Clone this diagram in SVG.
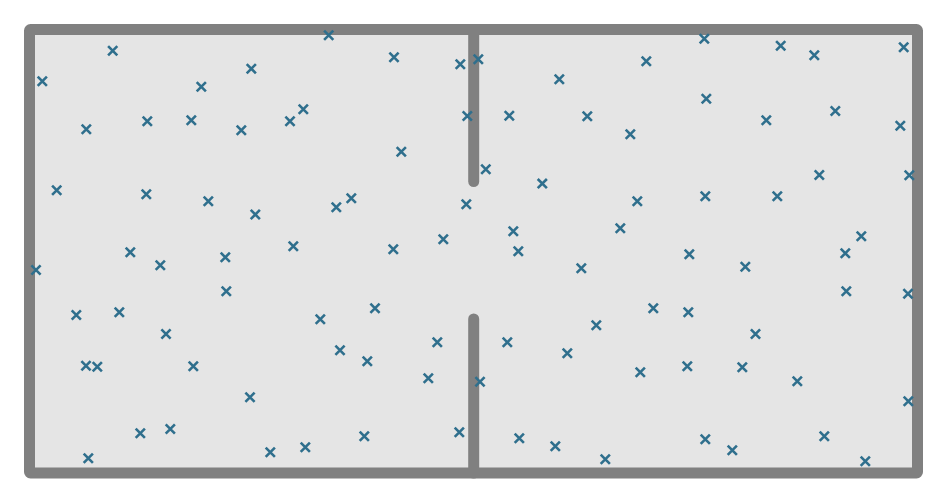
<svg xmlns="http://www.w3.org/2000/svg" xmlns:xlink="http://www.w3.org/1999/xlink" width="946" height="502" viewBox="0 0 946 502">
<style>
.wall{fill:none;stroke:#808080;stroke-width:11;stroke-linecap:round;stroke-linejoin:round}
.floor{fill:#e5e5e5;stroke:#808080;stroke-width:11;stroke-linejoin:round}
.m{fill:none;stroke:#2f6f8d;stroke-width:2.6}
</style>
<defs>
<path id="m" class="m" d="M-4.6,-4.6L4.6,4.6M-4.6,4.6L4.6,-4.6"/>
</defs>
<rect width="946" height="502" fill="#ffffff"/>
<g id="room">
<rect x="29.5" y="29.5" width="888" height="443.5" rx="1" class="floor"/>
<line x1="473.7" y1="29.5" x2="473.7" y2="181.5" class="wall"/>
<line x1="473.7" y1="319" x2="473.7" y2="473" class="wall"/>
</g>
<g id="particles">
<use href="#m" x="112.7" y="50.7"/>
<use href="#m" x="42.3" y="81.3"/>
<use href="#m" x="201.3" y="86.7"/>
<use href="#m" x="251.3" y="68.7"/>
<use href="#m" x="86.3" y="129.3"/>
<use href="#m" x="147.3" y="121.3"/>
<use href="#m" x="191.3" y="120.3"/>
<use href="#m" x="241.3" y="130.3"/>
<use href="#m" x="328.7" y="35.3"/>
<use href="#m" x="394" y="57.3"/>
<use href="#m" x="460.3" y="64.3"/>
<use href="#m" x="478.3" y="59.3"/>
<use href="#m" x="290" y="121.3"/>
<use href="#m" x="303.3" y="109.3"/>
<use href="#m" x="467.3" y="116"/>
<use href="#m" x="401.3" y="151.7"/>
<use href="#m" x="485.8" y="169.3"/>
<use href="#m" x="704.3" y="38.7"/>
<use href="#m" x="646.3" y="61.3"/>
<use href="#m" x="559.3" y="79.3"/>
<use href="#m" x="706.3" y="98.7"/>
<use href="#m" x="509.3" y="115.7"/>
<use href="#m" x="587.3" y="116.3"/>
<use href="#m" x="630.3" y="134.3"/>
<use href="#m" x="542.3" y="183.6"/>
<use href="#m" x="780.7" y="45.7"/>
<use href="#m" x="814.3" y="55.3"/>
<use href="#m" x="903.7" y="47.3"/>
<use href="#m" x="766.3" y="120.3"/>
<use href="#m" x="835.3" y="111"/>
<use href="#m" x="900.3" y="125.7"/>
<use href="#m" x="819.3" y="175"/>
<use href="#m" x="909.3" y="175.3"/>
<use href="#m" x="56.7" y="190.3"/>
<use href="#m" x="146.3" y="194.3"/>
<use href="#m" x="208.3" y="201.3"/>
<use href="#m" x="255.3" y="214.5"/>
<use href="#m" x="130.3" y="252.3"/>
<use href="#m" x="160.3" y="265.3"/>
<use href="#m" x="225.3" y="257.3"/>
<use href="#m" x="36" y="270"/>
<use href="#m" x="226.3" y="291.3"/>
<use href="#m" x="76.3" y="315"/>
<use href="#m" x="119.3" y="312.3"/>
<use href="#m" x="166" y="334"/>
<use href="#m" x="336.3" y="207.3"/>
<use href="#m" x="351.3" y="198.3"/>
<use href="#m" x="466.3" y="204.3"/>
<use href="#m" x="293.3" y="246.3"/>
<use href="#m" x="393.3" y="249.3"/>
<use href="#m" x="443.3" y="239.3"/>
<use href="#m" x="375" y="308.3"/>
<use href="#m" x="320.3" y="319.3"/>
<use href="#m" x="437.3" y="342.3"/>
<use href="#m" x="637.3" y="201.3"/>
<use href="#m" x="705.3" y="196.3"/>
<use href="#m" x="513.3" y="231.3"/>
<use href="#m" x="620.3" y="228.3"/>
<use href="#m" x="518.3" y="251.3"/>
<use href="#m" x="689.3" y="254.3"/>
<use href="#m" x="581.3" y="268.3"/>
<use href="#m" x="653.3" y="308.3"/>
<use href="#m" x="688.3" y="312.3"/>
<use href="#m" x="596.3" y="325.3"/>
<use href="#m" x="507.3" y="342.3"/>
<use href="#m" x="777.3" y="196.3"/>
<use href="#m" x="861.3" y="236.3"/>
<use href="#m" x="845.3" y="253.3"/>
<use href="#m" x="745.3" y="266.7"/>
<use href="#m" x="846.3" y="291.3"/>
<use href="#m" x="908" y="293.7"/>
<use href="#m" x="755.5" y="334"/>
<use href="#m" x="86" y="365.7"/>
<use href="#m" x="97.3" y="366.7"/>
<use href="#m" x="193.3" y="366.3"/>
<use href="#m" x="250" y="397.3"/>
<use href="#m" x="140.3" y="433.3"/>
<use href="#m" x="170.3" y="429"/>
<use href="#m" x="88.3" y="458.3"/>
<use href="#m" x="340" y="350.3"/>
<use href="#m" x="367.3" y="361.3"/>
<use href="#m" x="428.3" y="378.3"/>
<use href="#m" x="480" y="381.7"/>
<use href="#m" x="270.3" y="452.3"/>
<use href="#m" x="305.3" y="447.3"/>
<use href="#m" x="364.3" y="436.3"/>
<use href="#m" x="459.3" y="432.3"/>
<use href="#m" x="567.3" y="353.3"/>
<use href="#m" x="640.3" y="372.3"/>
<use href="#m" x="687.3" y="366.3"/>
<use href="#m" x="519.3" y="438.3"/>
<use href="#m" x="555.3" y="446.3"/>
<use href="#m" x="605.3" y="459.3"/>
<use href="#m" x="705.3" y="439.3"/>
<use href="#m" x="742.3" y="367.3"/>
<use href="#m" x="797.3" y="381.3"/>
<use href="#m" x="908.3" y="401.3"/>
<use href="#m" x="732.3" y="450.3"/>
<use href="#m" x="824.3" y="436.3"/>
<use href="#m" x="865.3" y="461.3"/>
</g>
</svg>
